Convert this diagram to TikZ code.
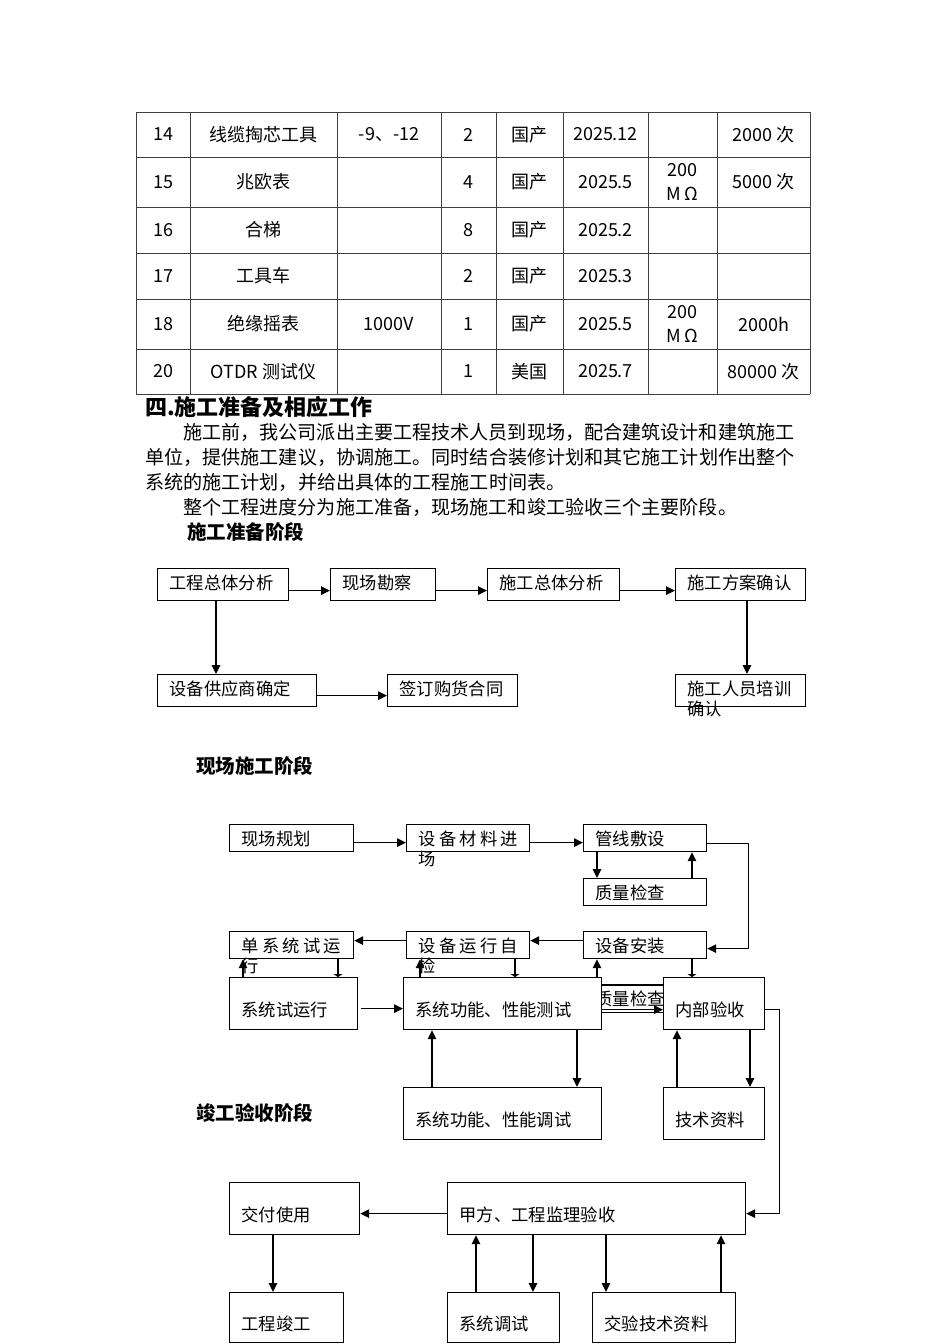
\documentclass[tikz,border=0pt]{standalone}
\usepackage{fontspec}
\setmainfont{Noto Sans CJK SC}
\usetikzlibrary{arrows.meta}
\newcommand{\kongge}{\hspace{3.2pt}}

\begin{document}
\begin{tikzpicture}[x=1pt, y=-1pt,
  box/.style={draw, line width=1.2pt, anchor=north west, inner xsep=12pt, inner ysep=0pt,
              align=left, text depth=3pt, font=\fontsize{17.3}{20}\selectfont},
  boxa/.style={box, text height=12pt, minimum height=32pt},
  boxb/.style={box, text height=17pt, minimum height=27pt},
  boxc/.style={box, text height=28pt, minimum height=52pt},
  arr/.style={-{Triangle[length=9pt, width=8.5pt]}, line width=1.2pt},
  flat/.style={-{Triangle[length=3pt, width=9pt]}, line width=1.2pt},
  link/.style={line width=1.2pt},
  tabline/.style={line width=0.8pt, black!75},
  cell/.style={inner sep=0pt, align=center, font=\fontsize{18}{24}\selectfont},
  bodytxt/.style={anchor=base west, inner sep=0pt, font=\fontsize{19.1}{25}\selectfont},
  headtxt/.style={anchor=base west, inner sep=0pt, font=\fontsize{19.5}{25}\selectfont\bfseries},
]
\useasboundingbox (0,0) rectangle (950,1344);

% equipment table
\foreach \x in {136,190,337,441,496,563,648,717,810}
  \draw[tabline] (\x,112) -- (\x,394);
\foreach \y in {112,157,207,253,299,349,394}
  \draw[tabline] (136,\y) -- (810,\y);
\foreach \x [count=\c] in {163,263.5,389,468.5,529.5,605.5,682.5,763.5}
  \coordinate (col\c) at (\x,0);
\foreach \t [count=\c] in {14,线缆掏芯工具,-9、-12,2,国产,2025.12,,2000 次}
  \node[cell] (r1c\c) at (col\c |- 0,134.5) {\t};
\foreach \t [count=\c] in {15,兆欧表,,4,国产,2025.5,200\\M\,Ω,5000 次}
  \node[cell] (r2c\c) at (col\c |- 0,182) {\t};
\foreach \t [count=\c] in {16,合梯,,8,国产,2025.2,,}
  \node[cell] (r3c\c) at (col\c |- 0,230) {\t};
\foreach \t [count=\c] in {17,工具车,,2,国产,2025.3,,}
  \node[cell] (r4c\c) at (col\c |- 0,276) {\t};
\foreach \t [count=\c] in {18,绝缘摇表,1000V,1,国产,2025.5,200\\M\,Ω,2000h}
  \node[cell] (r5c\c) at (col\c |- 0,324) {\t};
\foreach \t [count=\c] in {20,OTDR 测试仪,,1,美国,2025.7,,80000 次}
  \node[cell] (r6c\c) at (col\c |- 0,371.5) {\t};

% text
\node[headtxt, font=\fontsize{22}{26}\selectfont\bfseries] (heading) at (145,415.4) {四.施工准备及相应工作};
\node[bodytxt] (para1) at (183,439.5) {施工前，我公司派出主要工程技术人员到现场，配合建筑设计和建筑施工};
\node[bodytxt] (para2) at (145,464.5) {单位，提供施工建议，协调施工。同时结合装修计划和其它施工计划作出整个};
\node[bodytxt] (para3) at (145,489.5) {系统的施工计划，并给出具体的工程施工时间表。};
\node[bodytxt] (para4) at (183,514.5) {整个工程进度分为施工准备，现场施工和竣工验收三个主要阶段。};
\node[headtxt] (stage1) at (187,539.5) {施工准备阶段};

% stage 1
\node[boxa, text width=107pt] (analysis) at (157,568) {工程总体分析};
\node[boxa, text width=81pt] (survey) at (330,568) {现场勘察};
\node[boxa, text width=108pt] (overall) at (487,568) {施工总体分析};
\node[boxa, text width=106pt] (scheme) at (675,568) {施工方案确认};
\node[boxa, text width=135pt] (supplier) at (157,674) {设备供应商确定};
\node[boxa, text width=106pt] (contract) at (387,674) {签订购货合同};
\node[boxa, text width=106pt] (training) at (675,674) {施工人员培训\\确认};
\draw[arr] ([yshift=-6pt]analysis.east) -- ([yshift=-6pt]survey.west);
\draw[arr] ([yshift=-6pt]survey.east) -- ([yshift=-6pt]overall.west);
\draw[arr] ([yshift=-6pt]overall.east) -- ([yshift=-6pt]scheme.west);
\draw[arr] (216,0 |- analysis.south) -- (216,0 |- supplier.north);
\draw[arr] (747,0 |- scheme.south) -- (747,0 |- training.north);
\draw[arr] ([yshift=-5pt]supplier.east) -- ([yshift=-5pt]contract.west);

% stage 2
\node[headtxt] (stage2) at (196,773.5) {现场施工阶段};
\node[boxb, text width=100pt] (siteplan) at (229,824) {现场规划};
\node[boxb, text width=99pt] (material) at (406,824) {\mbox{设\kongge 备\kongge 材\kongge 料\kongge 进}\\场};
\node[boxb, text width=99pt] (piping) at (583,824) {管线敷设};
\node[boxb, text width=99pt] (qcheck) at (583,878) {质量检查};
\node[boxb, text width=99pt] (install) at (583,931) {设备安装};
\node[boxb, text width=99pt] (selfcheck) at (406,931) {\mbox{设\kongge 备\kongge 运\kongge 行\kongge 自}\\检};
\node[boxb, text width=100pt] (unitrun) at (229,931) {\mbox{单\kongge 系\kongge 统\kongge 试\kongge 运}\\行};
\node[boxc, text width=104pt] (trialrun) at (229,977) {系统试运行};
\node[boxc, text width=174pt] (functest) at (403,977) {系统功能、性能测试};
\node[boxc, text width=77pt] (internal) at (663,977) {内部验收};
\node[boxc, text width=174pt] (debug) at (403,1087) {系统功能、性能调试};
\node[boxc, text width=77pt] (techdoc) at (663,1087) {技术资料};
\draw[arr] ([yshift=-4.5pt]siteplan.east) -- ([yshift=-4.5pt]material.west);
\draw[arr] ([yshift=-4.5pt]material.east) -- ([yshift=-4.5pt]piping.west);
\draw[arr] (597,0 |- piping.south) -- (597,0 |- qcheck.north);
\draw[arr] (692,0 |- qcheck.north) -- (692,0 |- piping.south);
\draw[arr] ([yshift=-5.5pt]piping.east) -| ([xshift=41pt,yshift=-3.5pt]install.east) -- ([yshift=-3.5pt]install.east);
\draw[arr] ([yshift=4.5pt]install.west) -- ([yshift=4.5pt]selfcheck.east);
\draw[arr] ([yshift=4.5pt]selfcheck.west) -- ([yshift=4.5pt]unitrun.east);
\draw[arr] (243,0 |- trialrun.north) -- (243,0 |- unitrun.south);
\draw[flat] (338,0 |- unitrun.south) -- (338,0 |- trialrun.north);
\draw[arr] ([xshift=3pt,yshift=-5pt]trialrun.east) -- ([yshift=-5pt]functest.west);
\draw[arr] (420,0 |- functest.north) -- (420,0 |- selfcheck.south);
\draw[flat] (515,0 |- selfcheck.south) -- (515,0 |- functest.north);
\draw[arr] (597,0 |- functest.north) -- (597,0 |- install.south);
\draw[flat] (692,0 |- install.south) -- (692,0 |- internal.north);
\draw[link] (functest.east |- 0,985) -- (internal.west |- 0,985);
\begin{scope}
  \clip (functest.east |- 0,980) rectangle (internal.west |- 0,1015);
  \node[inner sep=0pt, font=\fontsize{17.3}{20}\selectfont] (qcheck2) at (630,999) {质量检查};
\end{scope}
\draw[arr] ([yshift=-6pt]functest.east) -- ([yshift=-6pt]internal.west);
\draw[link] ([yshift=-9pt]functest.east) -- ([yshift=-9pt]internal.west);
\draw[arr] (432,0 |- debug.north) -- (432,0 |- functest.south);
\draw[arr] (577,0 |- functest.south) -- (577,0 |- debug.north);
\draw[arr] (677,0 |- techdoc.north) -- (677,0 |- internal.south);
\draw[arr] (750,0 |- internal.south) -- (750,0 |- techdoc.north);

% stage 3
\node[headtxt] (stage3) at (196,1120.5) {竣工验收阶段};
\node[boxc, text width=106pt] (handover) at (229,1182) {交付使用};
\node[boxc, text width=274pt] (owner) at (447,1182) {甲方、工程监理验收};
\node[boxc, text width=90pt, minimum height=50pt] (completion) at (229,1292) {工程竣工};
\node[boxc, text width=88pt, minimum height=50pt] (sysdebug) at (447,1292) {系统调试};
\node[boxc, text width=119pt, minimum height=50pt] (docs) at (592,1292) {交验技术资料};
\draw[arr] ([yshift=-6pt]internal.east) -| ([xshift=33pt,yshift=-5pt]owner.east) -- ([yshift=-5pt]owner.east);
\draw[arr] ([yshift=-5pt]owner.west) -- ([yshift=-5pt]handover.east);
\draw[arr] (273,0 |- handover.south) -- (273,0 |- completion.north);
\draw[arr] (476,0 |- sysdebug.north) -- (476,0 |- owner.south);
\draw[arr] (533,0 |- owner.south) -- (533,0 |- sysdebug.north);
\draw[arr] (606,0 |- owner.south) -- (606,0 |- docs.north);
\draw[arr] (721,0 |- docs.north) -- (721,0 |- owner.south);
\end{tikzpicture}
\end{document}
